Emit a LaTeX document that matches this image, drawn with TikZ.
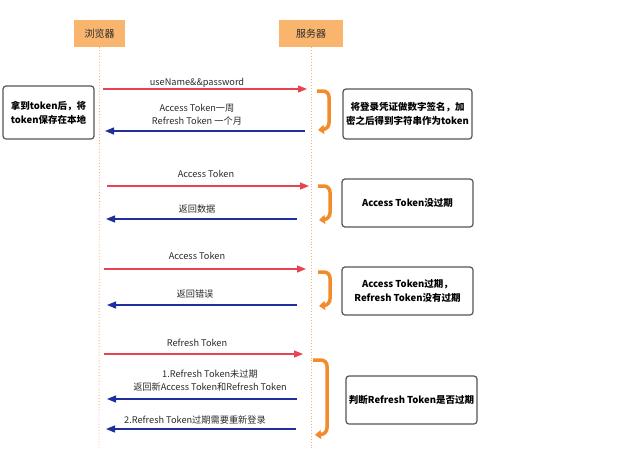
\documentclass[tikz,border=0pt]{standalone}
\usepackage{fontspec}
\setmainfont{Noto Sans CJK SC}
\usetikzlibrary{arrows.meta,positioning,calc}
\definecolor{HeadOrange}{HTML}{F9B56E}
\definecolor{LifeOrange}{HTML}{F2B27A}
\definecolor{ReqRed}{HTML}{E8434E}
\definecolor{RespBlue}{HTML}{1F2F9C}
\definecolor{HookOrange}{HTML}{F38B2B}
\definecolor{BoxGray}{HTML}{555555}
\definecolor{TextGray}{HTML}{2A2A2A}

\tikzset{
  head/.style={fill=HeadOrange, minimum height=27pt, inner sep=0pt,
    font=\fontsize{10}{11}\selectfont, text=TextGray},
  life/.style={LifeOrange, dotted, line width=.9pt},
  req/.style={ReqRed, line width=1.2pt, -{Triangle[length=9pt,width=7pt]}},
  resp/.style={RespBlue, line width=1.2pt, -{Triangle[length=9pt,width=7pt]}},
  hook/.style={HookOrange, line width=3.5pt, rounded corners=6pt,
    -{Triangle[length=6pt,width=9pt]}},
  msg/.style={font=\fontsize{9.2}{13}\selectfont, text=TextGray, align=center, inner sep=1pt},
  note/.style={draw=BoxGray, line width=1.2pt, rounded corners=3pt, align=center,
    font=\bfseries\fontsize{9.5}{14}\selectfont, text=black, inner sep=0pt,
    minimum width=131pt, minimum height=48pt}
}

\begin{document}
\begin{tikzpicture}[x=1pt,y=-1pt]
  \useasboundingbox (0,0) rectangle (642,466);

  % participants
  \node[head, minimum width=51pt] (browser) at (99.5,33.5) {浏览器};
  \node[head, minimum width=64pt] (server) at (311,33.5) {服务器};
  \coordinate (browserEnd) at (99,450);
  \coordinate (serverEnd) at (311,450);
  \draw[life] (browser.south) -- (browserEnd);
  \draw[life] (server.south) -- (serverEnd);

  % login
  \coordinate (b1) at (103,89);  \coordinate (s1) at (307,89);
  \coordinate (s2) at (305,131); \coordinate (b2) at (105,131);
  \draw[req] (b1) -- (s1);
  \draw[resp] (s2) -- (b2);
  \node[msg] (m1) at (197,83) {useName\&\&password};
  \node[msg] (m2) at (197,114.5) {Access Token一周\\Refresh Token 一个月};
  \draw[hook] (317,91) -- (329,91) -- (329,129) -- (318,130);
  \node[note, minimum width=91pt, minimum height=53pt] (store) at (48.5,112.5)
    {拿到token后，将\\token保存在本地};
  \node[note, minimum width=129pt, minimum height=50pt] (sign) at (407.5,114)
    {将登录凭证做数字签名，加\\密之后得到字符串作为token};

  % token still valid
  \coordinate (b3) at (107,186); \coordinate (s3) at (309,186);
  \coordinate (s4) at (297,219); \coordinate (b4) at (106,219);
  \draw[req] (b3) -- (s3);
  \draw[resp] (s4) -- (b4);
  \node[msg] (m3) at (206,174) {Access Token};
  \node[msg] (m4) at (197,209) {返回数据};
  \draw[hook] (318,186) -- (330,186) -- (330,219) -- (319,220);
  \node[note] (valid) at (407.5,203) {Access Token没过期};

  % access token expired
  \coordinate (b5) at (104,269); \coordinate (s5) at (306,269);
  \coordinate (s6) at (297,305); \coordinate (b6) at (107,305);
  \draw[req] (b5) -- (s5);
  \draw[resp] (s6) -- (b6);
  \node[msg] (m5) at (197,256) {Access Token};
  \node[msg] (m6) at (195,294) {返回错误};
  \draw[hook] (318,272) -- (330,272) -- (330,305) -- (319,306);
  \node[note] (expired) at (407.5,291) {Access Token过期，\\Refresh Token没有过期};

  % refresh
  \coordinate (b7) at (104,354); \coordinate (s7) at (303,354);
  \coordinate (s8) at (297,399); \coordinate (b8) at (107,399);
  \coordinate (s9) at (296,429); \coordinate (b9) at (106,429);
  \draw[req] (b7) -- (s7);
  \draw[resp] (s8) -- (b8);
  \draw[resp] (s9) -- (b9);
  \node[msg] (m7) at (197,343) {Refresh Token};
  \node[msg] (m8) at (210,380.5) {1.Refresh Token未过期\\返回新Access Token和Refresh Token};
  \node[msg] (m9) at (195,420) {2.Refresh Token过期需要重新登录};
  \draw[hook] (313,360) -- (327,360) -- (327,434) -- (315,435);
  \node[note] (check) at (411.5,400) {判断Refresh Token是否过期};
\end{tikzpicture}
\end{document}
